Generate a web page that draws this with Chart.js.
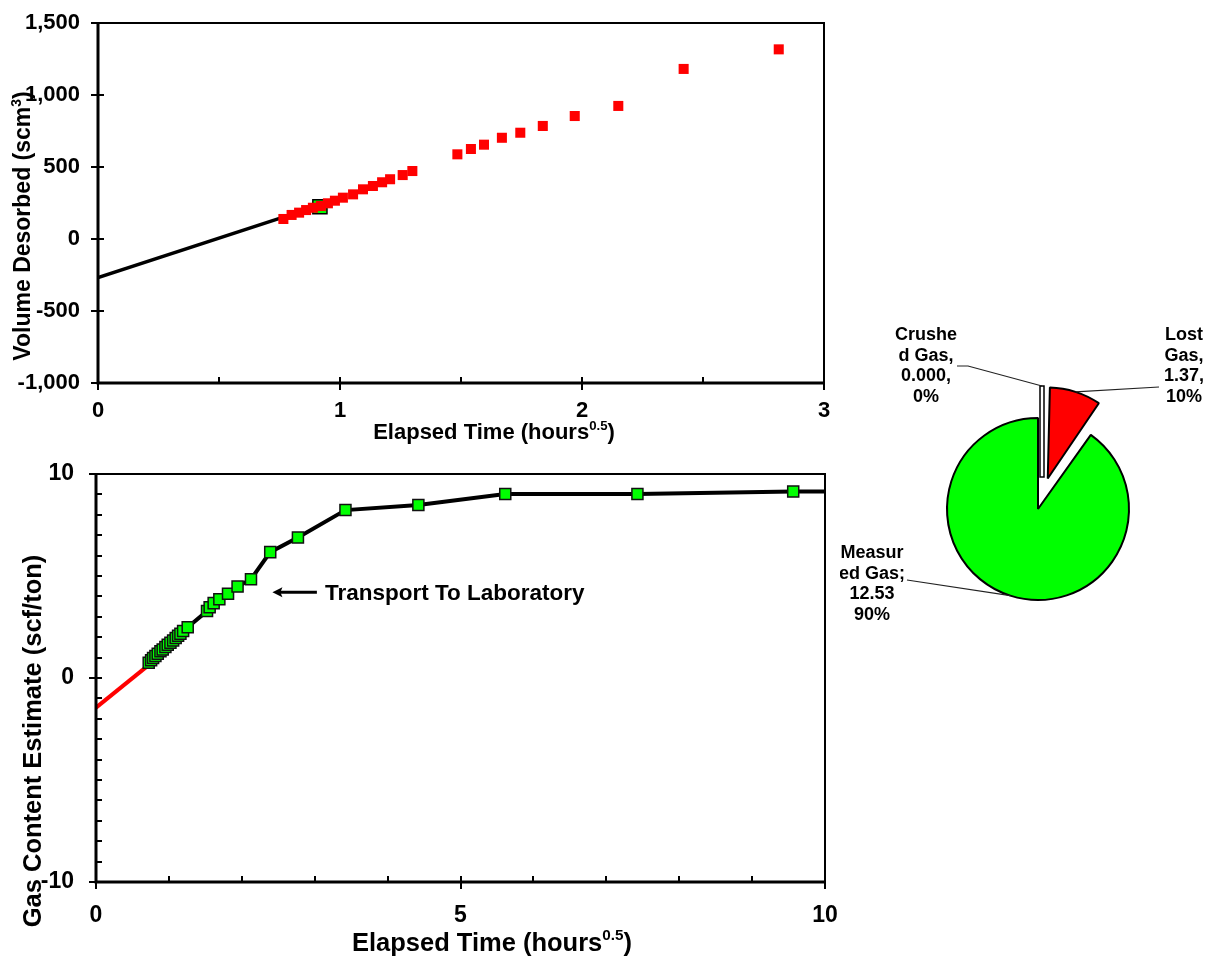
<!DOCTYPE html>
<html>
<head>
<meta charset="utf-8">
<script src="https://cdn.jsdelivr.net/npm/chart.js@4.4.1/dist/chart.umd.min.js"></script>
<style>
  html, body { margin:0; padding:0; background:#fff; }
  body { width:1208px; height:959px; position:relative; overflow:hidden; }
  .panel { position:absolute; }
</style>
</head>
<body>
<div class="panel" style="left:0;top:0"><canvas id="desorb" width="850" height="445"></canvas></div>
<div class="panel" style="left:0;top:450px"><canvas id="content" width="850" height="509"></canvas></div>
<div class="panel" style="left:840px;top:300px"><canvas id="split" width="368" height="420"></canvas></div>
<script>
const FONT = "'Liberation Sans', Arial, Helvetica, sans-serif";

// ── Desorption readings: sqrt(elapsed hours) vs cumulative volume ─────────────
const desorbTime   = [0.766, 0.800, 0.831, 0.860, 0.888, 0.921, 0.950, 0.979, 1.012, 1.054, 1.095, 1.136, 1.174,
                      1.207, 1.259, 1.299, 1.485, 1.541, 1.595, 1.669, 1.745, 1.838, 1.970, 2.150, 2.420, 2.813];
const desorbVolume = [139, 167, 183, 201, 217, 229, 248, 266, 287, 310, 345, 368, 394,
                      415, 444, 472, 588, 625, 655, 703, 738, 785, 854, 924, 1181, 1317];
// lost-gas regression back to t = 0
const fitTime   = [0, 0.766];
const fitVolume = [-268, 152];
// reading picked for the regression end
const pickTime   = [0.917];
const pickVolume = [224];
const volumeTicks     = [-1000, -500, 0, 500, 1000, 1500];
const desorbTimeTicks = [0, 1, 2, 3];

// ── Gas content estimate ──────────────────────────────────────────────────────
const gasTime    = [0.723, 0.756, 0.783, 0.815, 0.847, 0.884, 0.915, 0.952, 0.984, 1.021, 1.058, 1.093, 1.126,
                    1.158, 1.195, 1.258, 1.523, 1.559, 1.614, 1.692, 1.811, 1.942, 2.126, 2.390, 2.770, 3.422,
                    4.422, 5.614, 7.427, 9.564, 10.9];
const gasContent = [0.75, 0.87, 0.98, 1.08, 1.19, 1.31, 1.40, 1.52, 1.63, 1.73, 1.84, 1.96, 2.07,
                    2.17, 2.30, 2.49, 3.28, 3.47, 3.67, 3.86, 4.13, 4.48, 4.84, 6.17, 6.89, 8.23,
                    8.48, 9.02, 9.02, 9.14, 9.14];
const lostTime    = [0, 0.70];
const lostContent = [-1.45, 0.57];
const contentTicks     = [-10, 0, 10];
const contentTimeTicks = [0, 5, 10];

// ── Gas split ─────────────────────────────────────────────────────────────────
const gasParts   = ['Crushed Gas', 'Lost Gas', 'Measured Gas'];
const gasAmounts = [0.000, 1.37, 12.53];
const gasColors  = ['#ffffff', '#ff0000', '#00ff00'];

const pts = (xs, ys) => xs.map((x, i) => ({ x, y: ys[i] }));
const fixWidth  = w => scale => { scale.width = w; };
const fixHeight = h => scale => { scale.height = h; };
const useTicks  = list => scale => { scale.ticks = list.map(value => ({ value })); };
// tick marks are drawn by axisDecor; tickLength only spaces the labels
const labelGap  = len => ({ display: false, drawTicks: true, tickLength: len });

Chart.defaults.font.family = FONT;
Chart.defaults.font.weight = 'bold';
Chart.defaults.color = '#000';
Chart.defaults.animation = false;
Chart.defaults.plugins.legend.display = false;
Chart.defaults.plugins.tooltip.enabled = false;

// text with an optional superscript run, centred on (x, y)
function drawRich(ctx, parts, x, y, size, vertical) {
  ctx.save();
  ctx.translate(x, y);
  if (vertical) ctx.rotate(-Math.PI / 2);
  const fontOf = p => `bold ${p.sup ? size * 0.6 : size}px ${FONT}`;
  let w = 0;
  for (const p of parts) { ctx.font = fontOf(p); w += ctx.measureText(p.t).width; }
  let cx = -w / 2;
  const base = size * 0.36;
  ctx.fillStyle = '#000';
  ctx.textBaseline = 'alphabetic';
  for (const p of parts) {
    ctx.font = fontOf(p);
    ctx.fillText(p.t, cx, p.sup ? base - size * 0.42 : base);
    cx += ctx.measureText(p.t).width;
  }
  ctx.restore();
}

const onStep = (v, step) => Math.abs(v / step - Math.round(v / step)) < 1e-6;

// plot frame, in/out tick marks and axis titles
const axisDecor = {
  id: 'axisDecor',
  afterDatasetsDraw(chart, args, o) {
    const { ctx, chartArea: a } = chart;
    const xs = chart.scales.x, ys = chart.scales.y;
    ctx.save();
    ctx.strokeStyle = '#000';
    ctx.lineWidth = 2;
    ctx.strokeRect(a.left, a.top, a.right - a.left, a.bottom - a.top);
    ctx.lineWidth = 3;
    ctx.beginPath();
    ctx.moveTo(a.left, a.top); ctx.lineTo(a.left, a.bottom); ctx.lineTo(a.right, a.bottom);
    ctx.stroke();

    ctx.lineWidth = 2;
    ctx.beginPath();
    for (let v = xs.min; v <= xs.max + 1e-9; v += o.xMinor) {
      const px = Math.round(xs.getPixelForValue(v));
      ctx.moveTo(px, a.bottom + (onStep(v, o.xMajor) ? 7 : 0));
      ctx.lineTo(px, a.bottom - 6);
    }
    for (let v = ys.min; v <= ys.max + 1e-9; v += o.yMinor) {
      const py = Math.round(ys.getPixelForValue(v));
      ctx.moveTo(a.left - (onStep(v, o.yMajor) ? 7 : 0), py);
      ctx.lineTo(a.left + 6, py);
    }
    ctx.stroke();
    ctx.restore();

    for (const t of o.titles) drawRich(ctx, t.parts, t.x, t.y, t.size, t.vertical);
  }
};

// arrow + note on the content chart
const transportNote = {
  id: 'transportNote',
  afterDatasetsDraw(chart, args, o) {
    if (!o.text) return;
    const { ctx } = chart;
    const xs = chart.scales.x, ys = chart.scales.y;
    const x0 = xs.getPixelForValue(o.from[0]), x1 = xs.getPixelForValue(o.to[0]);
    const y = ys.getPixelForValue(o.from[1]);
    ctx.save();
    ctx.strokeStyle = '#000'; ctx.fillStyle = '#000';
    ctx.lineWidth = 3;
    ctx.beginPath(); ctx.moveTo(x0, y); ctx.lineTo(x1 + 6, y); ctx.stroke();
    ctx.beginPath();
    ctx.moveTo(x1, y); ctx.lineTo(x1 + 10, y - 5); ctx.lineTo(x1 + 8, y); ctx.lineTo(x1 + 10, y + 5);
    ctx.closePath(); ctx.fill();
    ctx.font = `bold ${o.size}px ${FONT}`;
    ctx.textBaseline = 'middle';
    ctx.fillText(o.text, xs.getPixelForValue(o.textX), y + 1);
    ctx.restore();
  }
};

// ── Volume desorbed ───────────────────────────────────────────────────────────
new Chart(document.getElementById('desorb'), {
  type: 'scatter',
  data: {
    datasets: [{
      data: pts(desorbTime, desorbVolume),
      pointStyle: 'rect', pointRadius: 7.1, borderWidth: 0,
      backgroundColor: '#ff0000', borderColor: '#ff0000',
    }, {
      data: pts(pickTime, pickVolume),
      pointStyle: 'rect', pointRadius: 10, borderWidth: 1.5,
      backgroundColor: '#00ff00', borderColor: '#000',
    }, {
      data: pts(fitTime, fitVolume),
      showLine: true, pointRadius: 0, borderColor: '#000', borderWidth: 3.5,
    }]
  },
  options: {
    responsive: false,
    layout: { padding: { top: 23, right: 26, left: 0, bottom: 0 } },
    scales: {
      x: {
        type: 'linear', min: 0, max: 3,
        afterFit: fixHeight(62), afterBuildTicks: useTicks(desorbTimeTicks),
        grid: labelGap(15), border: { display: false },
        ticks: { padding: 0, font: { size: 22 }, callback: v => v }
      },
      y: {
        type: 'linear', min: -1000, max: 1500,
        afterFit: fixWidth(98), afterBuildTicks: useTicks(volumeTicks),
        grid: labelGap(18), border: { display: false },
        ticks: { padding: 0, font: { size: 22 }, callback: v => v.toLocaleString('en-US') }
      }
    },
    plugins: {
      axisDecor: {
        xMinor: 0.5, xMajor: 1, yMinor: 500, yMajor: 500,
        titles: [
          { parts: [{ t: 'Elapsed Time (hours' }, { t: '0.5', sup: true }, { t: ')' }], x: 494, y: 431, size: 22 },
          { parts: [{ t: 'Volume Desorbed (scm' }, { t: '3', sup: true }, { t: ')' }], x: 22, y: 226, size: 23, vertical: true }
        ]
      }
    }
  },
  plugins: [axisDecor]
});

// ── Gas content estimate ──────────────────────────────────────────────────────
new Chart(document.getElementById('content'), {
  type: 'scatter',
  data: {
    datasets: [{
      data: pts(gasTime, gasContent),
      showLine: true, borderColor: '#000', borderWidth: 4,
      pointStyle: 'rect', pointRadius: 7.8, pointBorderWidth: 1.5,
      pointBackgroundColor: '#00ff00', pointBorderColor: '#111',
    }, {
      data: pts(lostTime, lostContent),
      showLine: true, pointRadius: 0, borderColor: '#ff0000', borderWidth: 4,
    }]
  },
  options: {
    responsive: false,
    layout: { padding: { top: 24, right: 25, left: 0, bottom: 0 } },
    scales: {
      x: {
        type: 'linear', min: 0, max: 10,
        afterFit: fixHeight(77), afterBuildTicks: useTicks(contentTimeTicks),
        grid: labelGap(20), border: { display: false },
        ticks: { padding: 0, font: { size: 23 }, callback: v => v }
      },
      y: {
        type: 'linear', min: -10, max: 10,
        afterFit: fixWidth(96), afterBuildTicks: useTicks(contentTicks),
        grid: labelGap(22), border: { display: false },
        ticks: { padding: 0, font: { size: 23 }, callback: v => v }
      }
    },
    plugins: {
      axisDecor: {
        xMinor: 1, xMajor: 5, yMinor: 1, yMajor: 10,
        titles: [
          { parts: [{ t: 'Elapsed Time (hours' }, { t: '0.5', sup: true }, { t: ')' }], x: 492, y: 492, size: 25.5 },
          { parts: [{ t: 'Gas Content Estimate (scf/ton)' }], x: 32, y: 291, size: 25.5, vertical: true }
        ]
      },
      transportNote: { from: [3.03, 4.2], to: [2.42, 4.2], textX: 3.14, text: 'Transport To Laboratory', size: 22.5 }
    }
  },
  plugins: [axisDecor, transportNote]
});

// ── Gas split pie ─────────────────────────────────────────────────────────────
const gasTotal = gasAmounts.reduce((s, v) => s + v, 0);
const pct = v => Math.round(v / gasTotal * 100) + '%';
const calloutLines = [
  ['Crushe', 'd Gas,', gasAmounts[0].toFixed(3) + ',', pct(gasAmounts[0])],
  ['Lost', 'Gas,', gasAmounts[1].toFixed(2) + ',', pct(gasAmounts[1])],
  ['Measur', 'ed Gas;', gasAmounts[2].toFixed(2), pct(gasAmounts[2])]
];
// text block centre x / first line y, and leader bend points (canvas px)
const calloutAt = [
  { x: 86,  y: 35,  bend: [[128, 66], [117, 66]] },
  { x: 344, y: 35,  bend: [[319, 87]] },
  { x: 32,  y: 253, bend: [[67, 280]] }
];

const pieCallouts = {
  id: 'pieCallouts',
  afterDatasetUpdate(chart, args) {
    // exploded slices keep the common radius
    for (const arc of args.meta.data) {
      const shift = (arc.options.offset || 0) / 4;
      if (arc.circumference > 0) arc.outerRadius -= shift * (1 - Math.sin(Math.min(Math.PI, arc.circumference)));
    }
  },
  afterDatasetsDraw(chart) {
    const { ctx } = chart;
    const meta = chart.getDatasetMeta(0);
    const R = meta.controller.outerRadius;
    ctx.save();
    meta.data.forEach((arc, i) => {
      const shift = (arc.options.offset || 0) / 4;
      const half = (arc.startAngle + arc.endAngle) / 2;
      const ox = arc.x + Math.cos(half) * shift, oy = arc.y + Math.sin(half) * shift;
      if (arc.circumference === 0) {
        // zero-size slice: thin outlined sliver
        ctx.beginPath();
        ctx.moveTo(ox + 2, oy); ctx.lineTo(ox + 2, oy - R); ctx.lineTo(ox + 6, oy - R); ctx.lineTo(ox + 6, oy);
        ctx.closePath();
        ctx.fillStyle = arc.options.backgroundColor; ctx.fill();
        ctx.lineWidth = 1.5; ctx.strokeStyle = '#000'; ctx.stroke();
      }
      const ax = arc.circumference === 0 ? ox + 4 : ox + Math.cos(half) * R;
      const ay = arc.circumference === 0 ? oy - R : oy + Math.sin(half) * R;
      ctx.beginPath();
      ctx.moveTo(ax, ay);
      for (const [bx, by] of calloutAt[i].bend) ctx.lineTo(bx, by);
      ctx.lineWidth = 1.2; ctx.strokeStyle = '#222'; ctx.stroke();

      ctx.fillStyle = '#000';
      ctx.font = `bold 18px ${FONT}`;
      ctx.textAlign = 'center';
      ctx.textBaseline = 'middle';
      calloutLines[i].forEach((s, k) => ctx.fillText(s, calloutAt[i].x, calloutAt[i].y + k * 20.7));
    });
    ctx.restore();
  }
};

new Chart(document.getElementById('split'), {
  type: 'pie',
  data: {
    labels: gasParts,
    datasets: [{
      data: gasAmounts,
      backgroundColor: gasColors,
      borderColor: '#000', borderWidth: 2,
      offset: [128, 128, 0],
      radius: 91
    }]
  },
  options: {
    responsive: false,
    layout: { padding: { left: 28, bottom: 2 } }
  },
  plugins: [pieCallouts]
});
</script>
</body>
</html>
